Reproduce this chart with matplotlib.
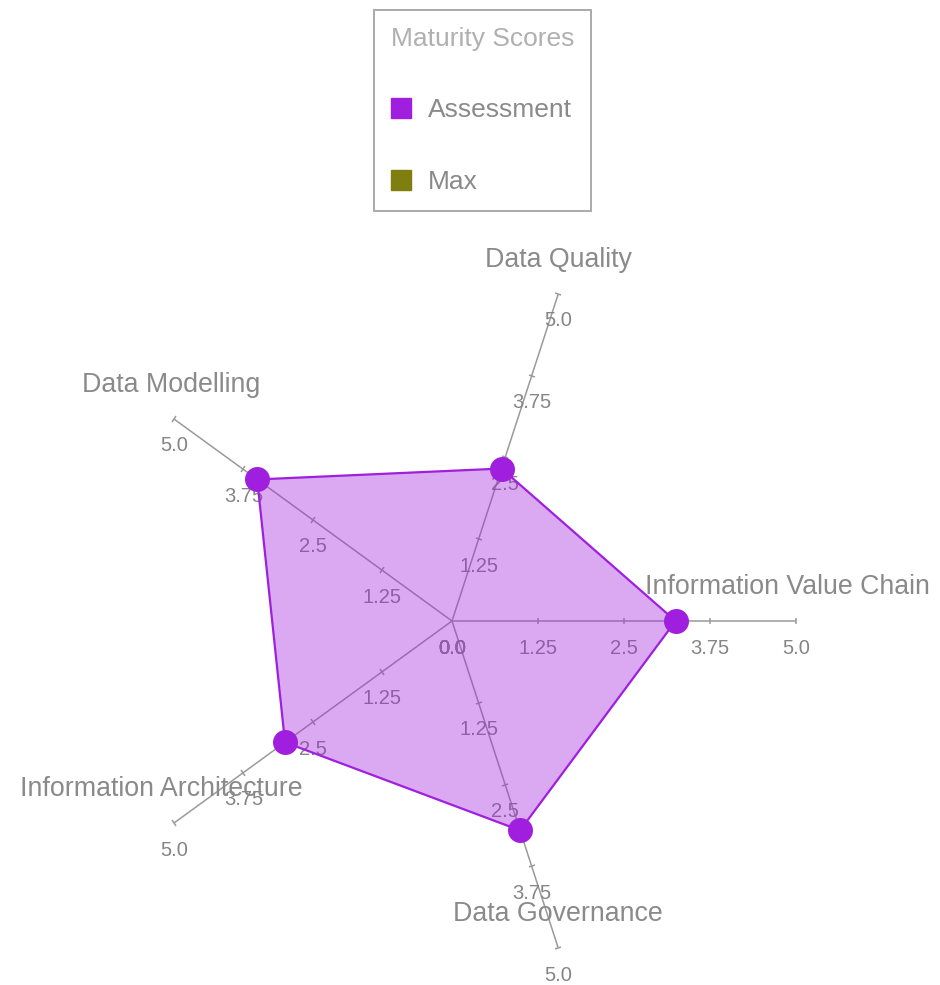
import numpy as np
import matplotlib
matplotlib.use("Agg")
import matplotlib.pyplot as plt
from matplotlib.markers import MarkerStyle
from matplotlib.transforms import Affine2D
from matplotlib.lines import Line2D

# ---- data ----
categories = ["Information Value Chain", "Data Quality", "Data Modelling",
              "Information Architecture", "Data Governance"]
assessment = [3.25, 2.33, 3.5, 3.0, 3.2]
tick_values = [0.0, 1.25, 2.5, 3.75, 5.0]
tick_labels = ["0.0", "1.25", "2.5", "3.75", "5.0"]
series_names = ["Assessment", "Max"]
series_colors = ["#A01FDE", "#7F7F0F"]
legend_title = "Maturity Scores"
r_max = 5.0

# label x nudges (points), layout only
label_dx = [-6, 0, -2, -9, 0]

plt.rcParams['font.family'] = ['Liberation Sans', 'DejaVu Sans']

W, H = 940, 985
fig = plt.figure(figsize=(W / 100, H / 100), dpi=100)
ax = fig.add_axes([0, 0, 1, 1])
ax.set_axis_off()

# center at pixel (452, 621), 5.0 -> 344 px
ppu = 344 / r_max
cx, cy = 452, 621
ax.set_xlim(-cx / ppu, (W - cx) / ppu)
ax.set_ylim(-(H - cy) / ppu, cy / ppu)

n = len(categories)
angles = np.deg2rad(np.arange(n) * 360.0 / n)

axis_color = "#9a9a9a"
text_color = "#8a8a8a"
tick_color = "#858585"

# axes, ticks, tick labels
for i, th in enumerate(angles):
    ux, uy = np.cos(th), np.sin(th)
    ax.plot([0, r_max * ux], [0, r_max * uy], color=axis_color, lw=1.1, zorder=1,
            solid_capstyle="butt")
    tv = np.array(tick_values[1:])
    ms = MarkerStyle("|", transform=Affine2D().rotate_deg(np.rad2deg(th)))
    ax.plot(tv * ux, tv * uy, linestyle="none", marker=ms, markersize=5,
            markeredgewidth=1.1, color=axis_color, zorder=1)
    for v, lab in zip(tick_values, tick_labels):
        ax.annotate(lab, (v * ux, v * uy), xytext=(0, -19.5), textcoords="offset points",
                    ha="center", va="center", fontsize=14.5, color=tick_color, zorder=2)

# assessment polygon
xs = np.array(assessment) * np.cos(angles)
ys = np.array(assessment) * np.sin(angles)
ax.fill(xs, ys, color=series_colors[0], alpha=0.38, lw=0, zorder=3)
ax.plot(np.append(xs, xs[0]), np.append(ys, ys[0]), color=series_colors[0], lw=1.6, zorder=4)
ax.plot(xs, ys, linestyle="none", marker="o", markersize=18, color=series_colors[0],
        markeredgewidth=0, zorder=6)

# axis labels
for th, cat, dx in zip(angles, categories, label_dx):
    ax.annotate(cat, (r_max * np.cos(th), r_max * np.sin(th)), xytext=(dx, 24.5),
                textcoords="offset points", ha="center", va="center", fontsize=19.3,
                color=text_color, zorder=5)

# legend
handles = [Line2D([], [], linestyle="none", marker="s", markersize=14.5,
                  markerfacecolor=c, markeredgecolor=c) for c in series_colors]
leg = fig.legend(handles, series_names, title=legend_title, loc="upper center",
                 bbox_to_anchor=(482.5 / W, 1 - 10 / H), borderaxespad=0,
                 fontsize=19, title_fontsize=19,
                 frameon=True, fancybox=False, edgecolor="#aaaaaa", framealpha=1,
                 labelspacing=1.8, handlelength=0.8, handletextpad=0.6,
                 borderpad=0.65, alignment="left", labelcolor=text_color)
leg.get_frame().set_linewidth(1.4)
leg.get_title().set_color("#b0b0b0")
leg._legend_box.sep = 34

fig.savefig("out.png", dpi=100)
